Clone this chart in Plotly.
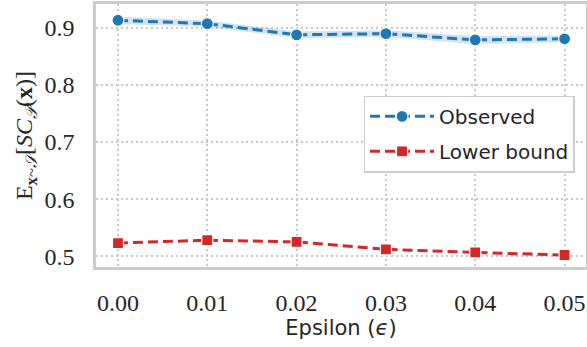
import plotly.graph_objects as go

epsilon = [0.00, 0.01, 0.02, 0.03, 0.04, 0.05]
observed = [0.9135, 0.9075, 0.888, 0.890, 0.879, 0.881]
observed_hi = [0.920, 0.913, 0.894, 0.896, 0.886, 0.887]
observed_lo = [0.907, 0.902, 0.882, 0.884, 0.872, 0.875]
lower_bound = [0.523, 0.528, 0.525, 0.512, 0.5065, 0.502]
x_ticks = [0.00, 0.01, 0.02, 0.03, 0.04, 0.05]
x_tick_text = ["0.00", "0.01", "0.02", "0.03", "0.04", "0.05"]
y_ticks = [0.5, 0.6, 0.7, 0.8, 0.9]
y_tick_text = ["0.5", "0.6", "0.7", "0.8", "0.9"]

BLUE = "#1f77b4"
RED = "#d62728"
SERIF = "Liberation Serif"
SANS = "DejaVu Sans"
TXT = "#262626"

fig = go.Figure()
fig.add_trace(go.Scatter(x=epsilon, y=observed_hi, mode="lines", line=dict(width=0),
                         showlegend=False, hoverinfo="skip"))
fig.add_trace(go.Scatter(x=epsilon, y=observed_lo, mode="lines", line=dict(width=0),
                         fill="tonexty", fillcolor="rgba(31,119,180,0.2)",
                         showlegend=False, hoverinfo="skip"))
fig.add_trace(go.Scatter(x=epsilon, y=observed, mode="lines+markers", name="Observed",
                         legendgroup="a",
                         line=dict(color=BLUE, width=3, dash="10px,5px"),
                         marker=dict(symbol="circle", size=12, color=BLUE,
                                     line=dict(color="white", width=1.2))))
fig.add_trace(go.Scatter(x=epsilon, y=lower_bound, mode="lines+markers", name="Lower bound",
                         legendgroup="b",
                         line=dict(color=RED, width=3, dash="10px,5px"),
                         marker=dict(symbol="square", size=11, color=RED,
                                     line=dict(color="white", width=1.2))))

grid = dict(showgrid=True, gridcolor="#c8c8c8", griddash="2px,3px", gridwidth=1.5,
            showline=True, mirror=True, linecolor="#cccccc", linewidth=2.5,
            zeroline=False, ticks="", automargin=False)

fig.update_layout(
    width=587, height=347,
    margin=dict(l=96, r=1, t=4, b=80),
    paper_bgcolor="white", plot_bgcolor="white",
    font=dict(family=SANS, size=20, color=TXT),
    legend=dict(x=0.977, y=0.652, xanchor="right", yanchor="top",
                bgcolor="white", bordercolor="#cccccc", borderwidth=1.3,
                font=dict(family=SANS, size=20, color=TXT),
                traceorder="grouped", tracegroupgap=6, itemwidth=64),
    xaxis=dict(range=[-0.00246, 0.0524], tickvals=x_ticks, ticktext=x_tick_text,
               tickfont=dict(family=SERIF, size=24, color=TXT),
               ticklabelstandoff=12,
               title=dict(text="Epsilon (<i>ϵ</i>)", standoff=4,
                          font=dict(family=SANS, size=21, color=TXT)),
               **grid),
    yaxis=dict(range=[0.481, 0.942], tickvals=y_ticks, ticktext=y_tick_text,
               tickfont=dict(family=SERIF, size=24, color=TXT),
               ticklabelstandoff=14,
               title=dict(text="E<sub><b>x</b>~<i>𝒮</i></sub>[<i>SC</i><sub><i>𝒫</i></sub>(<b>x</b>)]",
                          standoff=6,
                          font=dict(family=SERIF, size=24, color=TXT)),
               **grid),
)

fig.write_html("out.html", config={"displayModeBar": False},
               post_script="document.body.style.margin='0';document.body.style.overflow='hidden';")
